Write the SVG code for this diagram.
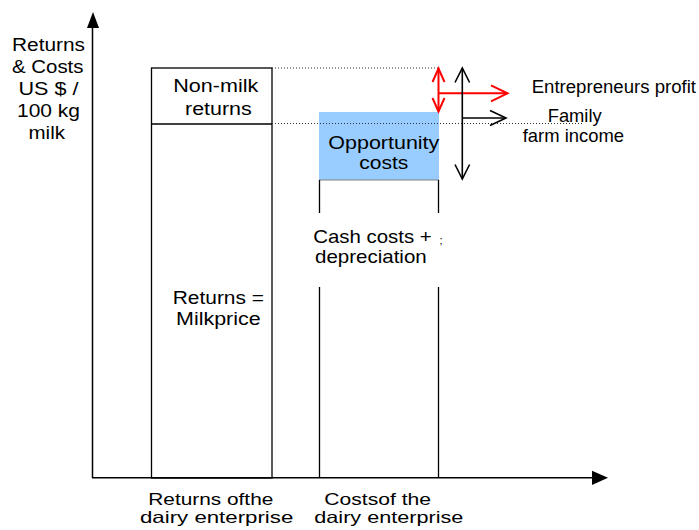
<svg xmlns="http://www.w3.org/2000/svg" width="699" height="530" viewBox="0 0 699 530">
  <style>
    text { font-family: "Liberation Sans", Arial, sans-serif; fill: #000; }
    .t16 { font-size: 16.5px; }
    .t17 { font-size: 17.5px; }
    .t18 { font-size: 18.5px; }
    .box { fill: none; stroke: #000; stroke-width: 1.3; }
    .axis { stroke: #000; stroke-width: 1.5; fill: none; }
    .dot { stroke: #333; stroke-width: 1; stroke-dasharray: 1 2; fill: none; }
    .red { stroke: #ff0000; stroke-width: 2; fill: none; }
    .blk { stroke: #000; stroke-width: 1.6; fill: none; }
  </style>

  <!-- axes -->
  <g id="axes">
    <line class="axis" x1="92.5" y1="478" x2="92.5" y2="26"/>
    <polygon points="93,12 87,28 99,28" fill="#000"/>
    <line class="axis" x1="92" y1="477.8" x2="594" y2="477.8"/>
    <polygon points="608,477.8 592,470.8 592,485" fill="#000"/>
  </g>

  <!-- vertical axis label -->
  <g id="y-label" class="t17">
    <text x="12" y="51" textLength="73" lengthAdjust="spacingAndGlyphs">Returns</text>
    <text x="12" y="73" textLength="71.5" lengthAdjust="spacingAndGlyphs">&amp; Costs</text>
    <text x="18.5" y="95" textLength="60" lengthAdjust="spacingAndGlyphs">US $ /</text>
    <text x="17" y="117" textLength="63" lengthAdjust="spacingAndGlyphs">100 kg</text>
    <text x="28.5" y="138.5" textLength="36.5" lengthAdjust="spacingAndGlyphs">milk</text>
  </g>

  <!-- returns column -->
  <g id="returns-column">
    <rect class="box" x="151.5" y="68" width="120.5" height="410"/>
    <line class="box" x1="151.5" y1="124" x2="272" y2="124"/>
    <text class="t17" x="173.3" y="92" textLength="85" lengthAdjust="spacingAndGlyphs">Non-milk</text>
    <text class="t17" x="185" y="114.5" textLength="66.7" lengthAdjust="spacingAndGlyphs">returns</text>
    <text class="t17" x="172.7" y="304" textLength="91.3" lengthAdjust="spacingAndGlyphs">Returns =</text>
    <text class="t17" x="176" y="325" textLength="84.7" lengthAdjust="spacingAndGlyphs">Milkprice</text>
  </g>

  <!-- costs column -->
  <g id="costs-column">
    <rect x="319" y="112" width="120" height="68" fill="#99ccff"/>
    <line x1="319" y1="180" x2="439" y2="180" stroke="#808080" stroke-width="1"/>
    <path class="box" d="M319.5,180 V213 M319.5,287 V478 M438.5,180 V213 M438.5,287 V478"/>
    <text class="t18" x="328.3" y="149" textLength="111" lengthAdjust="spacingAndGlyphs">Opportunity</text>
    <text class="t18" x="359.3" y="169.3" textLength="49" lengthAdjust="spacingAndGlyphs">costs</text>
    <text class="t18" x="313.3" y="243.3" textLength="118.4" lengthAdjust="spacingAndGlyphs">Cash costs +</text>
    <text x="439.5" y="244" style="font-size:11px">;</text>
    <text class="t18" x="315" y="262.7" textLength="111.7" lengthAdjust="spacingAndGlyphs">depreciation</text>
  </g>

  <!-- guide lines and arrows -->
  <g id="connectors">
    <line class="dot" x1="272" y1="68" x2="438" y2="68"/>
    <line class="dot" x1="272" y1="123.5" x2="582" y2="123.5"/>

    <!-- entrepreneurs profit -->
    <line class="red" x1="438.5" y1="68.5" x2="438.5" y2="111.5"/>
    <polyline class="red" points="432.5,82 438.5,68.5 444.5,82"/>
    <polyline class="red" points="432.5,98 438.5,111.5 444.5,98"/>
    <line class="red" x1="438.5" y1="93.3" x2="507.5" y2="93.3"/>
    <polyline class="red" points="491,85.3 507.5,93.3 491,101.3"/>

    <!-- family farm income -->
    <line class="blk" x1="462.3" y1="68" x2="462.3" y2="179"/>
    <polyline class="blk" points="455,82.5 462.3,68 469.6,82.5"/>
    <polyline class="blk" points="455,164.5 462.3,179 469.6,164.5"/>
    <line class="blk" x1="462.3" y1="118" x2="506" y2="118" stroke-width="2"/>
    <polyline class="blk" points="490,110.5 506,118 490,125.5"/>
  </g>

  <!-- arrow labels -->
  <g id="labels-right">
    <text class="t17" x="531.7" y="92.5" textLength="164.3" lengthAdjust="spacingAndGlyphs">Entrepreneurs profit</text>
    <text class="t18" x="547.7" y="121.5" textLength="54" lengthAdjust="spacingAndGlyphs">Family</text>
    <text class="t18" x="522.7" y="142" textLength="101.3" lengthAdjust="spacingAndGlyphs">farm income</text>
  </g>

  <!-- category labels -->
  <g id="x-labels" class="t16">
    <text x="148.3" y="505" textLength="125" lengthAdjust="spacingAndGlyphs">Returns ofthe</text>
    <text x="140" y="522.7" textLength="153.3" lengthAdjust="spacingAndGlyphs">dairy enterprise</text>
    <text x="324.3" y="505" textLength="106.7" lengthAdjust="spacingAndGlyphs">Costsof the</text>
    <text x="314.3" y="522.7" textLength="149" lengthAdjust="spacingAndGlyphs">dairy enterprise</text>
  </g>
</svg>
